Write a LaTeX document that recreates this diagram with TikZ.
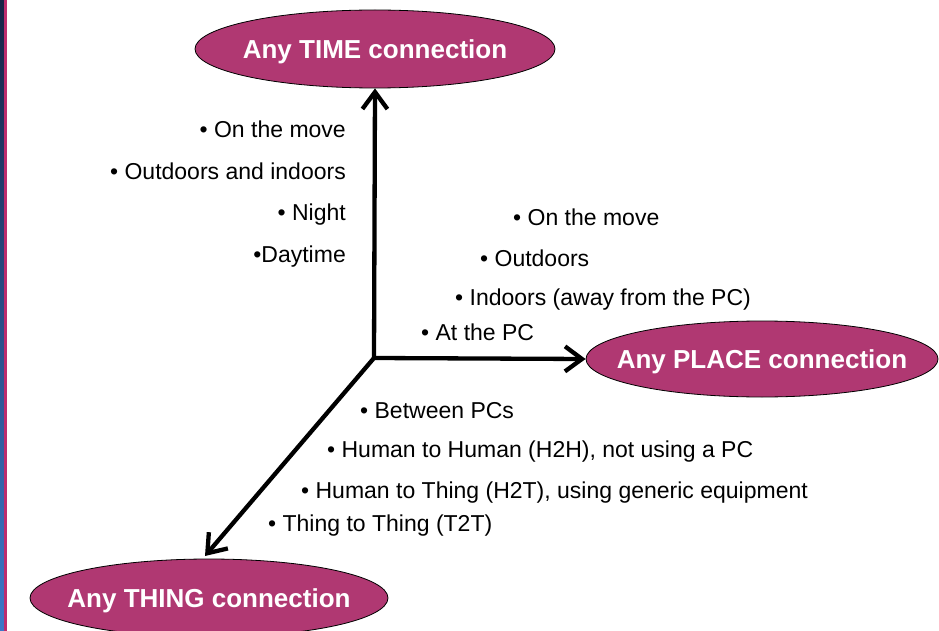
\documentclass[tikz,border=0pt]{standalone}
\usepackage{fontspec}
\setmainfont{Liberation Sans}
\usetikzlibrary{shapes.geometric,arrows.meta}
\definecolor{ellfill}{RGB}{176,56,114}
\definecolor{stripdark}{RGB}{22,36,70}
\definecolor{striplight}{RGB}{60,120,200}
\definecolor{strippink}{RGB}{190,45,110}
\newcommand{\zw}[1]{\raisebox{-9.5pt}[0pt][0pt]{\makebox[0pt][c]{#1}}}
\tikzset{
  ellnode/.style={ellipse, draw=black, line width=0.8pt, fill=ellfill, text=white,
    minimum width=360pt, minimum height=78pt, inner sep=0pt,
    font=\fontsize{26}{30}\selectfont\bfseries},
  axis/.style={line width=4.3pt, -{Straight Barb[length=17pt,width=25pt,line width=4.3pt]}},
  itembase/.style={inner sep=0pt, text height=17pt, text depth=0pt, font=\fontsize{23}{27}\selectfont},
  itemL/.style={itembase, anchor=east},
  itemR/.style={itembase, anchor=west}
}
\begin{document}
\begin{tikzpicture}[x=1pt,y=-1pt]
\useasboundingbox (0,0) rectangle (939,631);
\fill[white] (0,0) rectangle (939,631);
\shade[top color=stripdark, bottom color=striplight] (0,0) rectangle (4,631);
\fill[strippink] (4,0) rectangle (6.5,631);

\node[ellnode] (time) at (375,49) {\zw{Any TIME connection}};
\node[ellnode, minimum width=352pt, minimum height=76pt] (place) at (762,359) {\zw{Any PLACE connection}};
\node[ellnode, minimum width=358pt] (thing) at (209,598) {\zw{Any THING connection}};

\coordinate (o) at (374,358);
\coordinate (thingtip) at (205,556);
\draw[axis] (o) -- (time.south);
\draw[axis] (o) -- (place.west);
\draw[axis] (o) -- (thingtip);

\node[itemL] (t1) at (346,129) {• On the move};
\node[itemL] (t2) at (346,171) {• Outdoors and indoors};
\node[itemL] (t3) at (346,212) {• Night};
\node[itemL] (t4) at (346,254) {•Daytime};

\node[itemR] (p1) at (513,217) {• On the move};
\node[itemR] (p2) at (480,258) {• Outdoors};
\node[itemR] (p3) at (455,297) {• Indoors (away from the PC)};
\node[itemR] (p4) at (421,332) {• At the PC};

\node[itemR] (h1) at (360,410) {• Between PCs};
\node[itemR] (h2) at (327,449) {• Human to Human (H2H), not using a PC};
\node[itemR] (h3) at (301,490) {• Human to Thing (H2T), using generic equipment};
\node[itemR] (h4) at (268,523) {• Thing to Thing (T2T)};
\end{tikzpicture}
\end{document}
